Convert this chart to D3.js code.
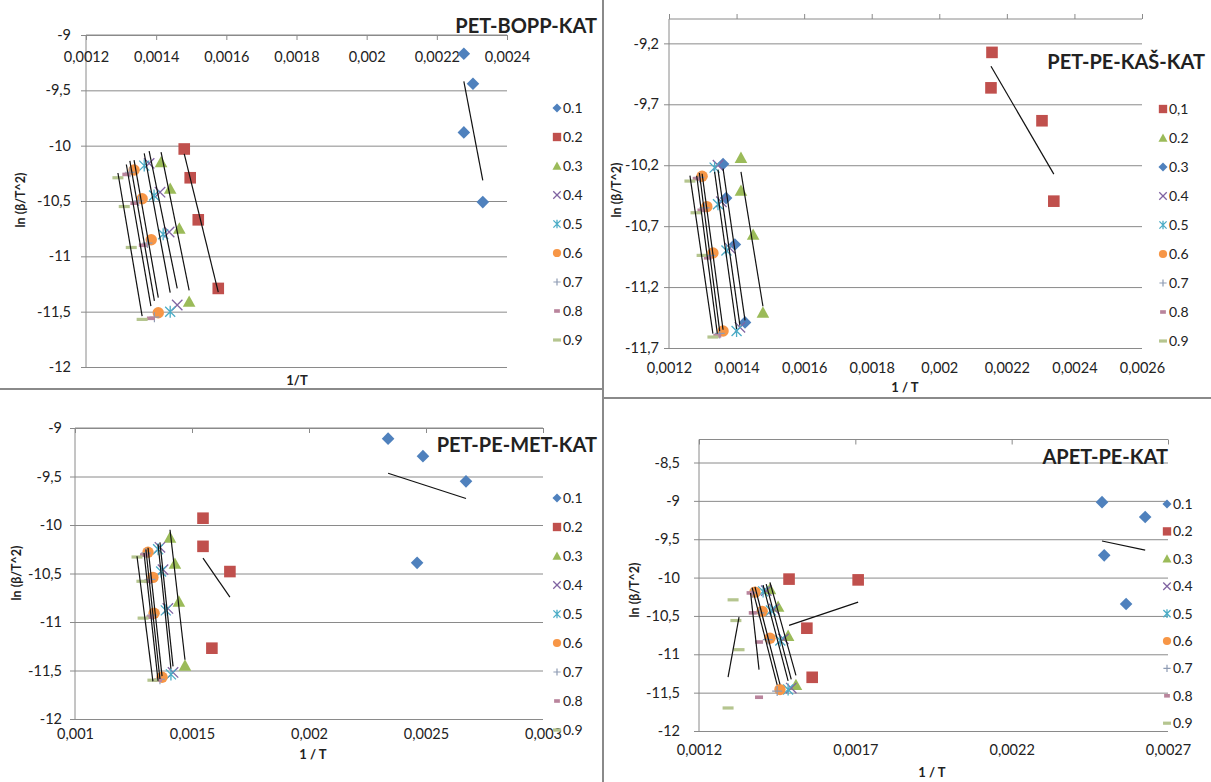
<!DOCTYPE html>
<html><head><meta charset="utf-8">
<script src="https://cdn.jsdelivr.net/npm/d3@7"></script>
<style>
body{margin:0;background:#fff}
svg{display:block}
text{font-family:Lato,"Open Sans",sans-serif;fill:#222}
</style>
</head><body>
<svg id="c" width="1211" height="782"></svg>
<script>
// ---------- shared ----------
const seriesNames = ["0.1","0.2","0.3","0.4","0.5","0.6","0.7","0.8","0.9"];
const seriesNamesKas = ["0,1","0.2","0.3","0.4","0.5","0.6","0.7","0.8","0.9"];
const markersStd = ["diamond","square","triangle","x","star","circle","plus","dashS","dashL"];
const colorsStd = ["#4F81BD","#C0504D","#9BBB59","#8064A2","#4BACC6","#F79646","#8E9BB3","#B9849C","#B5C58F"];
const markersKas = ["square","triangle","diamond","x","star","circle","plus","dashS","dashL"];
const colorsKas = ["#C0504D","#9BBB59","#4F81BD","#8064A2","#4BACC6","#F79646","#8E9BB3","#B9849C","#B5C58F"];

// ---------- PET-BOPP-KAT ----------
const boppTitle = "PET-BOPP-KAT";
const boppXTicks = [0.0012,0.0014,0.0016,0.0018,0.002,0.0022,0.0024];
const boppYTicks = [-12,-11.5,-11,-10.5,-10,-9.5,-9];
const boppX = [
 [0.002277,0.002303,0.002277,0.002331],
 [0.00148,0.001497,0.00152,0.001577],
 [0.001414,0.00144,0.001466,0.001494],
 [0.00138,0.001411,0.001437,0.00146],
 [0.001366,0.001394,0.00142,0.00144],
 [0.001337,0.00136,0.001386,0.001406],
 [0.001325,0.00135,0.001375,0.001395],
 [0.001315,0.001338,0.001362,0.001385],
 [0.001291,0.001309,0.001329,0.00136]];
const boppY = [
 [-9.17,-9.44,-9.88,-10.51],
 [-10.03,-10.29,-10.67,-11.29],
 [-10.15,-10.39,-10.75,-11.41],
 [-10.16,-10.42,-10.78,-11.44],
 [-10.18,-10.45,-10.8,-11.5],
 [-10.22,-10.48,-10.85,-11.51],
 [-10.24,-10.5,-10.88,-11.55],
 [-10.26,-10.52,-10.9,-11.56],
 [-10.29,-10.55,-10.92,-11.57]];

// ---------- PET-PE-KAŠ-KAT ----------
const kasTitle = "PET-PE-KAŠ-KAT";
const kasXTicks = [0.0012,0.0014,0.0016,0.0018,0.002,0.0022,0.0024,0.0026];
const kasYTicks = [-11.7,-11.2,-10.7,-10.2,-9.7,-9.2];
const kasX = [
 [0.002156,0.002153,0.002304,0.002339],
 [0.001413,0.001413,0.001449,0.001478],
 [0.00136,0.001369,0.001395,0.001425],
 [0.001345,0.001355,0.00138,0.00141],
 [0.001335,0.001345,0.00137,0.0014],
 [0.001298,0.001312,0.00133,0.00136],
 [0.00129,0.001305,0.001322,0.00135],
 [0.001282,0.001296,0.001315,0.001343],
 [0.001262,0.00128,0.001298,0.00133]];
const kasY = [
 [-9.274,-9.565,-9.835,-10.495],
 [-10.14,-10.41,-10.77,-11.41],
 [-10.19,-10.47,-10.85,-11.49],
 [-10.2,-10.5,-10.88,-11.53],
 [-10.22,-10.52,-10.9,-11.56],
 [-10.29,-10.54,-10.92,-11.56],
 [-10.3,-10.55,-10.94,-11.58],
 [-10.31,-10.57,-10.96,-11.6],
 [-10.33,-10.59,-10.94,-11.61]];

// ---------- PET-PE-MET-KAT ----------
const metTitle = "PET-PE-MET-KAT";
const metXTicks = [0.001,0.0015,0.002,0.0025,0.003];
const metYTicks = [-12,-11.5,-11,-10.5,-10,-9.5,-9];
const metX = [
 [0.002338,0.002487,0.002671,0.002462],
 [0.001547,0.001547,0.001662,0.001585],
 [0.001406,0.001427,0.001444,0.00147],
 [0.001363,0.001376,0.001397,0.001419],
 [0.001355,0.001368,0.001388,0.00141],
 [0.001312,0.001333,0.001338,0.001372],
 [0.001303,0.001322,0.00133,0.001363],
 [0.001295,0.001312,0.001322,0.001355],
 [0.001265,0.001286,0.001291,0.001333]];
const metY = [
 [-9.11,-9.29,-9.55,-10.39],
 [-9.93,-10.22,-10.48,-11.27],
 [-10.13,-10.4,-10.79,-11.45],
 [-10.23,-10.46,-10.86,-11.52],
 [-10.25,-10.48,-10.88,-11.54],
 [-10.28,-10.54,-10.91,-11.57],
 [-10.29,-10.56,-10.93,-11.59],
 [-10.31,-10.58,-10.95,-11.6],
 [-10.33,-10.58,-10.96,-11.6]];

// ---------- APET-PE-KAT ----------
const apetTitle = "APET-PE-KAT";
const apetXTicks = [0.0012,0.0017,0.0022,0.0027];
const apetYTicks = [-12,-11.5,-11,-10.5,-10,-9.5,-9,-8.5];
const apetX = [
 [0.002489,0.002627,0.002496,0.002566],
 [0.001488,0.001709,0.001545,0.001562],
 [0.001427,0.001453,0.001485,0.00151],
 [0.001415,0.00144,0.00147,0.001495],
 [0.001405,0.00143,0.00146,0.001485],
 [0.001379,0.001402,0.001427,0.001459],
 [0.00137,0.001393,0.00142,0.00145],
 [0.001365,0.001372,0.001392,0.001392],
 [0.001309,0.001318,0.001328,0.001293]];
const apetY = [
 [-9.017,-9.21,-9.71,-10.345],
 [-10.02,-10.03,-10.66,-11.30],
 [-10.15,-10.38,-10.76,-11.4],
 [-10.17,-10.41,-10.8,-11.44],
 [-10.18,-10.43,-10.82,-11.46],
 [-10.19,-10.44,-10.79,-11.46],
 [-10.2,-10.46,-10.81,-11.48],
 [-10.2,-10.46,-10.84,-11.56],
 [-10.29,-10.56,-10.94,-11.70]];

// ---------- drawing ----------
const svg = d3.select("#c");
const GRID = "#8a8a8a";
const fmt = v => String(+v.toFixed(6)).replace(".", ",");

function drawMarker(g, type, color, k) {
  const s = 6.3 * k;
  if (type === "diamond") g.append("path").attr("d", `M0,${-s}L${s},0L0,${s}L${-s},0Z`).attr("fill", color);
  else if (type === "square") { const h = 5.8 * k; g.append("rect").attr("x", -h).attr("y", -h).attr("width", 2*h).attr("height", 2*h).attr("fill", color); }
  else if (type === "triangle") g.append("path").attr("d", `M0,${-s}L${s},${s*0.8}L${-s},${s*0.8}Z`).attr("fill", color);
  else if (type === "circle") g.append("circle").attr("r", 5.7 * k).attr("fill", color);
  else if (type === "x") { const h = 5.2*k; g.append("path").attr("d", `M${-h},${-h}L${h},${h}M${-h},${h}L${h},${-h}`).attr("stroke", color).attr("stroke-width", 1.3).attr("fill","none"); }
  else if (type === "star") { const h = 5*k; g.append("path").attr("d", `M${-h},${-h}L${h},${h}M${-h},${h}L${h},${-h}M0,${-h*1.2}L0,${h*1.2}`).attr("stroke", color).attr("stroke-width", 1.3).attr("fill","none"); }
  else if (type === "plus") { const h = 5*k; g.append("path").attr("d", `M${-h},0L${h},0M0,${-h}L0,${h}`).attr("stroke", color).attr("stroke-width", 1.2).attr("fill","none"); }
  else if (type === "dashS") g.append("rect").attr("x", -4*k).attr("y", -1.8).attr("width", 8*k).attr("height", 3.6).attr("fill", color);
  else if (type === "dashL") g.append("rect").attr("x", -5.5*k).attr("y", -1.6).attr("width", 11*k).attr("height", 3.2).attr("fill", color);
}

function regression(xs, ys) {
  const mx = d3.mean(xs), my = d3.mean(ys);
  let sxy = 0, sxx = 0;
  xs.forEach((x, i) => { sxy += (x - mx) * (ys[i] - my); sxx += (x - mx) * (x - mx); });
  const b = sxy / sxx;
  return x => my + b * (x - mx);
}

function drawPanel(c) {
  const g = svg.append("g");
  const x = d3.scaleLinear().domain(c.xDom).range([c.L, c.R]);
  const y = d3.scaleLinear().domain(c.yDom).range([c.B, c.T]);

  // gridlines
  g.append("g").attr("transform", `translate(${c.L},0)`)
    .call(d3.axisLeft(y).tickValues(c.yTicks).tickSize(-(c.R - c.L)).tickFormat(""))
    .call(a => a.select(".domain").remove())
    .call(a => a.selectAll("line").attr("stroke", GRID).attr("stroke-width", 1));

  // y axis
  g.append("g").attr("transform", `translate(${c.L},0)`)
    .call(d3.axisLeft(y).tickValues(c.yTicks).tickSize(5).tickPadding(c.yPad).tickFormat(fmt))
    .call(a => a.select(".domain").attr("stroke", GRID).attr("d", `M0,${c.T}V${c.B}`))
    .call(a => a.selectAll("line").attr("stroke", GRID))
    .call(a => a.selectAll("text").attr("font-size", 14.5).attr("fill", "#222").style("font-family", "Lato"));

  // x axis line with ticks at top
  const ax = c.tickUp ? d3.axisTop(x) : d3.axisBottom(x);
  g.append("g").attr("transform", `translate(0,${c.T})`)
    .call(ax.tickValues(c.xTicks).tickSize(5).tickFormat(""))
    .call(a => a.select(".domain").attr("stroke", GRID).attr("d", `M${c.L},0H${c.R}`))
    .call(a => a.selectAll("line").attr("stroke", GRID));
  // x labels
  g.append("g").attr("transform", `translate(0,${c.xLabY})`)
    .call(d3.axisBottom(x).tickValues(c.xTicks).tickSize(0).tickPadding(0).tickFormat(fmt))
    .call(a => a.select(".domain").remove())
    .call(a => a.selectAll("text").attr("font-size", 14.5).attr("fill", "#222").attr("dy", "0.35em").style("font-family", "Lato"));

  // markers
  c.X.forEach((xs, si) => {
    xs.forEach((xv, i) => {
      const mg = g.append("g").attr("transform", `translate(${x(xv)},${y(c.Y[si][i])})`);
      drawMarker(mg, c.markers[si], c.colors[si], 1);
    });
  });
  // trendlines
  c.X.forEach((xs, si) => {
    const f = regression(xs, c.Y[si]);
    const x0 = d3.min(xs), x1 = d3.max(xs);
    g.append("line").attr("x1", x(x0)).attr("y1", y(f(x0))).attr("x2", x(x1)).attr("y2", y(f(x1)))
      .attr("stroke", "#111").attr("stroke-width", 1.2);
  });

  // legend
  c.legendLabels.forEach((lab, i) => {
    const ly = c.legY + i * c.legDy;
    const mg = g.append("g").attr("transform", `translate(${c.legX},${ly})`);
    drawMarker(mg, c.markers[i], c.colors[i], 0.72);
    g.append("text").attr("x", c.legX + 6).attr("y", ly).attr("dy", "0.35em").attr("font-size", 14).text(lab);
  });

  // titles
  g.append("text").attr("x", c.titleX).attr("y", c.titleY).attr("dy", "0.35em").attr("text-anchor", "end")
    .attr("font-size", 20).attr("font-weight", "bold").attr("fill", "#111").text(c.title);
  g.append("text").attr("x", c.xtX).attr("y", c.xtY).attr("dy", "0.35em").attr("text-anchor", "middle")
    .attr("font-size", 13).attr("font-weight", "bold").text(c.xTitle);
  g.append("text").attr("transform", `translate(${c.ytX},${c.ytY}) rotate(-90)`).attr("dy", "0.35em").attr("text-anchor", "middle")
    .attr("font-size", 12.5).attr("font-weight", "bold").text("ln (β/T^2)");
}

drawPanel({L:86,R:507,T:35,B:367,xDom:[0.0012,0.0024],yDom:[-12,-9],xTicks:boppXTicks,yTicks:boppYTicks,
  tickUp:false,xLabY:57,yPad:10,X:boppX,Y:boppY,markers:markersStd,colors:colorsStd,
  legendLabels:seriesNames,legX:557,legY:108,legDy:29,title:boppTitle,titleX:597,titleY:26,
  xTitle:"1/T",xtX:297,xtY:380,ytX:21,ytY:200});

drawPanel({L:669,R:1142,T:19,B:348,xDom:[0.0012,0.0026],yDom:[-11.7,-9.0],xTicks:kasXTicks,yTicks:kasYTicks,
  tickUp:true,xLabY:368,yPad:5,X:kasX,Y:kasY,markers:markersKas,colors:colorsKas,
  legendLabels:seriesNamesKas,legX:1163,legY:109,legDy:29,title:kasTitle,titleX:1205,titleY:62,
  xTitle:"1 / T",xtX:905,xtY:387,ytX:617,ytY:190});

drawPanel({L:75,R:543,T:428,B:719,xDom:[0.001,0.003],yDom:[-12,-9],xTicks:metXTicks,yTicks:metYTicks,
  tickUp:false,xLabY:734,yPad:8,X:metX,Y:metY,markers:markersStd,colors:colorsStd,
  legendLabels:seriesNames,legX:557,legY:498,legDy:29,title:metTitle,titleX:597,titleY:445,
  xTitle:"1 / T",xtX:313,xtY:754,ytX:17,ytY:573});

drawPanel({L:699,R:1168,T:439.5,B:731,xDom:[0.0012,0.0027],yDom:[-12,-8.2],xTicks:apetXTicks,yTicks:apetYTicks,
  tickUp:false,xLabY:750,yPad:14,X:apetX,Y:apetY,markers:markersStd,colors:colorsStd,
  legendLabels:seriesNames,legX:1167,legY:504,legDy:27.4,title:apetTitle,titleX:1168,titleY:457,
  xTitle:"1 / T",xtX:932,xtY:772,ytX:635,ytY:590});

// panel separators
svg.append("line").attr("x1",0).attr("x2",603).attr("y1",389).attr("y2",389).attr("stroke","#8a8a8a").attr("stroke-width",2);
svg.append("line").attr("x1",603).attr("x2",1211).attr("y1",398).attr("y2",398).attr("stroke","#8a8a8a").attr("stroke-width",2);
svg.append("line").attr("x1",603).attr("x2",603).attr("y1",0).attr("y2",782).attr("stroke","#8a8a8a").attr("stroke-width",2);
</script>
</body></html>
